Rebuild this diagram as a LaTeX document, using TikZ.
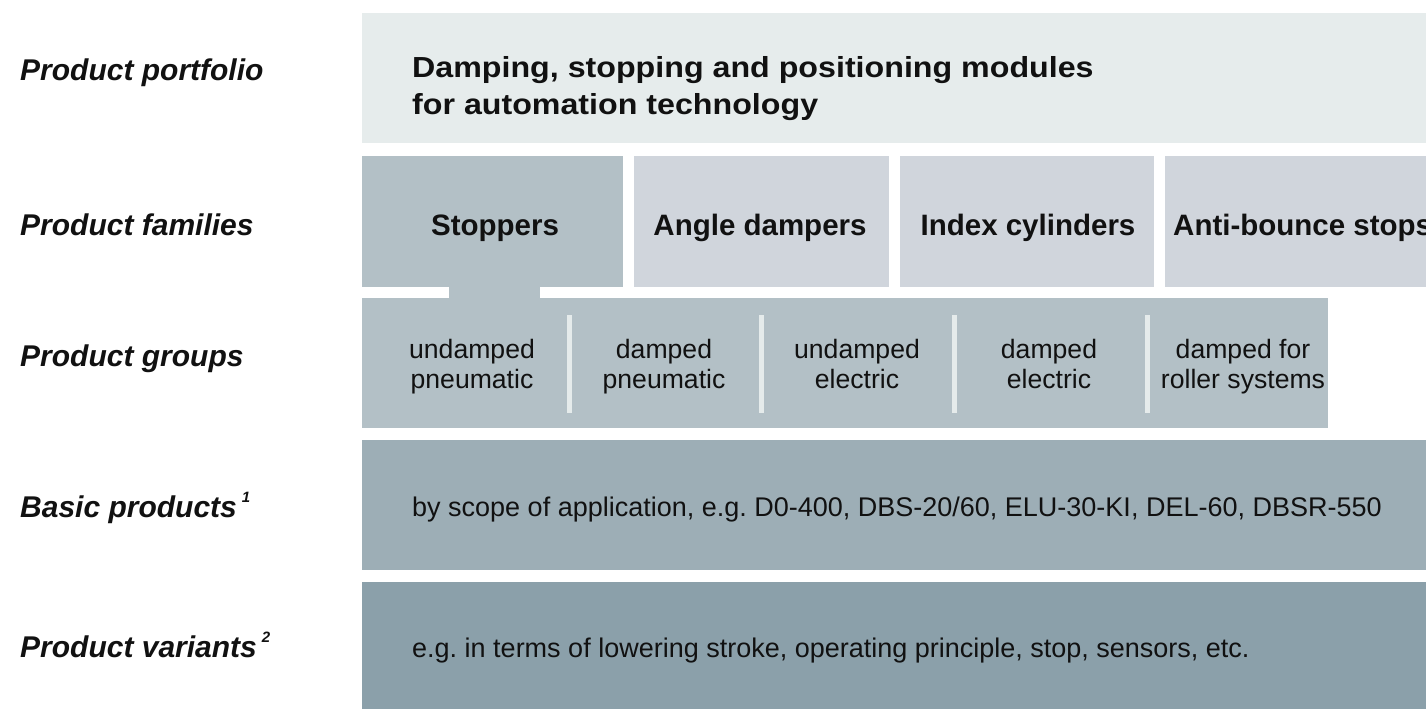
\documentclass[tikz,border=0pt]{standalone}
\usepackage{fontspec}
\setmainfont{Liberation Sans}
\newfontfamily\headfont[FakeStretch=1.11]{Liberation Sans}
\frenchspacing
\definecolor{cportf}{RGB}{230,236,236}
\definecolor{cstop}{RGB}{179,192,198}
\definecolor{cfam}{RGB}{208,213,220}
\definecolor{csep}{RGB}{229,235,235}
\definecolor{cbasic}{RGB}{157,174,182}
\definecolor{cvar}{RGB}{139,160,170}
\definecolor{ctext}{RGB}{17,17,17}
\tikzset{
  boxarea/.style={fill=#1, draw=none, inner sep=0pt, anchor=north west},
  lefthead/.style={anchor=base west, inner sep=0pt, text=ctext, font=\fontsize{30}{35}\selectfont\bfseries\itshape},
  famtext/.style={anchor=base, inner sep=0pt, text=ctext, font=\fontsize{29.5}{35}\selectfont\bfseries},
  porttext/.style={anchor=base west, inner sep=0pt, text=ctext, align=left, font=\headfont\fontsize{29}{37}\selectfont\bfseries},
  grptext/.style={anchor=base, inner sep=0pt, text=ctext, align=center, font=\fontsize{26.6}{29.5}\selectfont},
  bodytext/.style={anchor=base west, inner sep=0pt, text=ctext, font=\fontsize{27}{32}\selectfont},
  sepbar/.style={fill=csep, draw=none, inner sep=0pt, minimum width=5pt, minimum height=98pt, anchor=north}
}
\newcommand{\supnum}[1]{\,\raisebox{0.5em}{\fontsize{15}{15}\selectfont #1}}
\begin{document}
\begin{tikzpicture}[x=1pt,y=-1pt]
\useasboundingbox (0,0) rectangle (1426,709);
\clip (0,0) rectangle (1426,709);
% rows
\node[boxarea=cportf, minimum width=1064pt, minimum height=130pt] (portf) at (362,13) {};
\node[boxarea=cstop, minimum width=261pt, minimum height=131pt] (stop) at (362,156) {};
\node[boxarea=cstop, minimum width=91pt, minimum height=12pt] (tab) at (449,286) {};
\node[boxarea=cfam, minimum width=255pt, minimum height=131pt] (angle) at (634,156) {};
\node[boxarea=cfam, minimum width=254pt, minimum height=131pt] (index) at (900,156) {};
\node[boxarea=cfam, minimum width=261pt, minimum height=131pt] (anti) at (1165,156) {};
\node[boxarea=cstop, minimum width=966pt, minimum height=130pt] (groups) at (362,298) {};
\node[boxarea=cbasic, minimum width=1064pt, minimum height=130pt] (basic) at (362,440) {};
\node[boxarea=cvar, minimum width=1064pt, minimum height=127pt] (var) at (362,582) {};
% separators
\node[sepbar] (s1) at (569,315) {};
\node[sepbar] (s2) at (761,315) {};
\node[sepbar] (s3) at (954,315) {};
\node[sepbar] (s4) at (1147,315) {};
% left labels
\node[lefthead] (l1) at (20,80) {Product portfolio};
\node[lefthead] (l2) at (20,235) {Product families};
\node[lefthead] (l3) at (20,366) {Product groups};
\node[lefthead] (l4) at (20,517) {Basic products\supnum{1}};
\node[lefthead] (l5) at (20,657) {Product variants\supnum{2}};
% portfolio text (base = last line)
\node[porttext] (tp) at (412,114) {Damping, stopping and positioning modules\\for automation technology};
% families
\node[famtext] (t1) at (495,235) {Stoppers};
\node[famtext] (t2) at (760,235) {Angle dampers};
\node[famtext] (t3) at (1028,235) {Index cylinders};
\node[famtext, anchor=base west] (t4) at (1173,235) {Anti-bounce stops};
% groups (base = last line)
\node[grptext] (g1) at (472,388) {undamped\\pneumatic};
\node[grptext] (g2) at (664,388) {damped\\pneumatic};
\node[grptext] (g3) at (857,388) {undamped\\electric};
\node[grptext] (g4) at (1049,388) {damped\\electric};
\node[grptext] (g5) at (1243,388) {damped for\\roller systems};
% body texts
\node[bodytext] (tb) at (412,516) {by scope of application, e.g. D0-400, DBS-20/60, ELU-30-KI, DEL-60, DBSR-550};
\node[bodytext] (tv) at (412,657) {e.g. in terms of lowering stroke, operating principle, stop, sensors, etc.};
\end{tikzpicture}
\end{document}
